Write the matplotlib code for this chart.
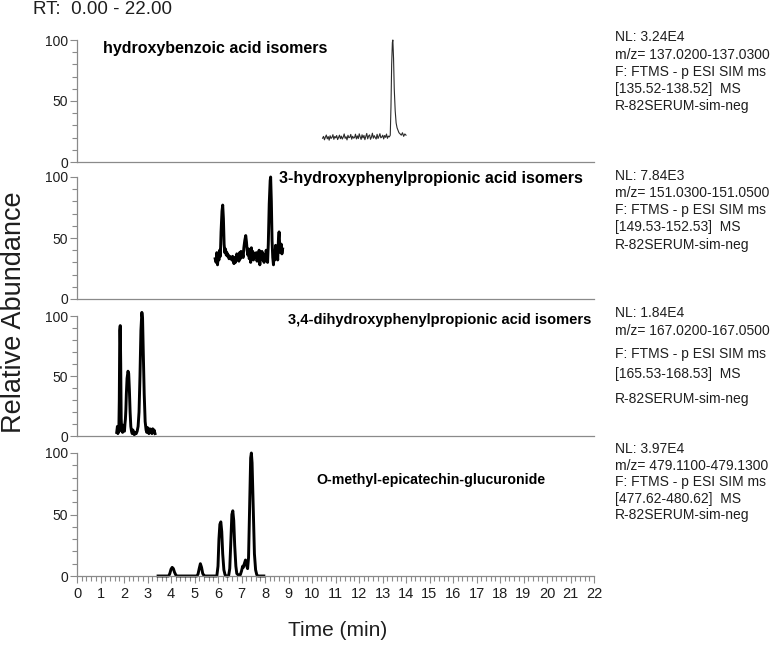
import numpy as np
import matplotlib
matplotlib.use('Agg')
import matplotlib.pyplot as plt
from matplotlib.ticker import MultipleLocator
from matplotlib import font_manager as fm

plt.rcParams['font.family'] = ['Liberation Sans', 'DejaVu Sans']

# ---------------- data ----------------
# panel 1: hydroxybenzoic acid isomers (baseline scans every 0.04 min from 10.45)
p1_base_start = 10.45
p1_base_step = 0.04
p1_base_vals = [19.5, 21.0, 18.2, 20.4, 22.1, 19.0, 20.8, 17.9, 21.5, 19.3,
                20.2, 22.4, 18.6, 20.9, 19.8, 21.7, 18.4, 20.1, 22.0, 19.1,
                21.2, 18.8, 20.5, 23.0, 19.4, 20.7, 18.1, 21.9, 19.9, 20.3,
                22.6, 18.7, 21.1, 19.6, 20.0, 22.8, 18.9, 21.4, 19.2, 23.1,
                20.6, 18.5, 22.3, 19.7, 21.8, 18.3, 20.9, 23.4, 19.0, 21.3,
                22.2, 18.6, 20.4, 23.6, 19.5, 21.6, 20.1, 18.8, 22.7, 19.3,
                21.0, 23.2, 19.8, 20.5, 22.0, 18.9, 21.7, 20.2, 22.9, 19.4,
                21.2, 20.6]
p1_peak_t = [13.33, 13.36, 13.39, 13.42, 13.44, 13.47, 13.50, 13.54, 13.58,
             13.62, 13.66, 13.70, 13.75, 13.80, 13.85, 13.90, 13.95, 14.00]
p1_peak_v = [22, 45, 80, 98, 100, 85, 60, 42, 32, 28, 26, 24, 23, 22, 24, 21, 23, 22]

# panel 2: 3-hydroxyphenylpropionic acid isomers
p2_t = [5.88, 5.92, 5.95, 5.98, 6.01, 6.04, 6.07, 6.10,
        6.13, 6.17, 6.20, 6.23, 6.26, 6.29,
        6.32, 6.35, 6.38, 6.41, 6.44, 6.47, 6.50, 6.53, 6.56, 6.59, 6.62, 6.65,
        6.68, 6.71, 6.74, 6.77, 6.80, 6.83, 6.86, 6.89, 6.92, 6.95, 6.98, 7.01,
        7.04, 7.07, 7.10,
        7.14, 7.18, 7.21, 7.24, 7.27,
        7.30, 7.33, 7.36, 7.39, 7.42, 7.45, 7.48, 7.51, 7.54, 7.57, 7.60, 7.63,
        7.66, 7.69, 7.72, 7.75, 7.78, 7.81, 7.84, 7.87, 7.90, 7.93, 7.96, 7.99,
        8.02, 8.05, 8.08, 8.11, 8.14,
        8.18, 8.22, 8.24, 8.27,
        8.30, 8.33, 8.36, 8.39, 8.42, 8.45, 8.48, 8.51, 8.54, 8.57, 8.60, 8.63,
        8.66, 8.69, 8.72, 8.75]
p2_v = [33, 30, 38, 28, 36, 32, 40, 35,
        55, 72, 77, 66, 45, 38,
        41, 36, 38, 35, 36, 33, 35, 33, 34, 32, 35, 31, 29, 34, 30, 33, 37, 32,
        36, 31, 38, 33, 39, 35, 37, 34, 42,
        48, 52, 47, 40, 36,
        41, 33, 38, 30, 42, 34, 39, 32, 37, 36, 34, 38, 31, 36, 33, 40, 28, 37,
        34, 39, 32, 37, 30, 36, 33, 40, 35, 30, 45,
        78, 97, 100, 80,
        48, 34, 28, 38, 32, 44, 36, 40, 32, 48, 55, 42, 38, 45, 37, 41]

# panel 3: 3,4-dihydroxyphenylpropionic acid isomers
p3_t = [1.69, 1.72, 1.74, 1.76, 1.78, 1.80, 1.82, 1.84, 1.86, 1.88,
        1.90, 1.92, 1.94, 1.96, 1.98, 2.00, 2.02, 2.04, 2.06, 2.08,
        2.10, 2.13, 2.17, 2.20, 2.23, 2.26, 2.29, 2.32, 2.35, 2.38,
        2.41, 2.44, 2.48, 2.52, 2.56, 2.60, 2.64, 2.68, 2.72, 2.76,
        2.79, 2.82, 2.86, 2.90, 2.94, 2.97, 3.00, 3.03, 3.06, 3.10,
        3.13, 3.16, 3.19, 3.22, 3.25, 3.28, 3.32]
p3_v = [3, 8, 2, 6, 4, 30, 88, 92, 60, 15,
        4, 8, 3, 9, 5, 7, 4, 10, 14, 22,
        35, 48, 54, 52, 38, 20, 8, 4, 2, 5,
        2, 1, 3, 2, 4, 8, 20, 50, 88, 103,
        98, 70, 35, 12, 5, 3, 7, 4, 2, 6,
        3, 5, 2, 6, 3, 5, 2]

# panel 4: O-methyl-epicatechin-glucuronide
p4_t = [3.45, 3.90, 3.95, 4.00, 4.05, 4.10, 4.15, 4.20, 4.25,
        5.10, 5.15, 5.20, 5.25, 5.30, 5.35, 5.40, 5.45,
        5.95, 6.00, 6.04, 6.08, 6.12, 6.16, 6.20, 6.25, 6.30, 6.35,
        6.45, 6.50, 6.55, 6.59, 6.63, 6.67, 6.71, 6.76, 6.80, 6.85,
        6.95, 7.00, 7.05, 7.08, 7.12, 7.17, 7.21, 7.26,
        7.30, 7.35, 7.39, 7.42, 7.45, 7.50, 7.55, 7.60, 7.65, 7.70, 7.95]
p4_v = [0, 0, 2, 5.5, 7, 6, 3, 1, 0,
        0, 1.5, 6, 10, 7, 2, 0.5, 0,
        0, 8, 30, 42, 44, 36, 18, 5, 1, 0,
        0, 6, 30, 50, 53, 45, 25, 8, 2, 1,
        1, 4, 8, 7, 10, 13, 9, 6,
        15, 60, 96, 100, 92, 55, 18, 5, 1, 0, 0]

titles = ["hydroxybenzoic acid isomers",
          "3-hydroxyphenylpropionic acid isomers",
          "3,4-dihydroxyphenylpropionic acid isomers",
          "O-methyl-epicatechin-glucuronide"]
info = [["NL: 3.24E4", "m/z= 137.0200-137.0300", "F: FTMS - p ESI SIM ms",
         "[135.52-138.52]  MS", "R-82SERUM-sim-neg"],
        ["NL: 7.84E3", "m/z= 151.0300-151.0500", "F: FTMS - p ESI SIM ms",
         "[149.53-152.53]  MS", "R-82SERUM-sim-neg"],
        ["NL: 1.84E4", "m/z= 167.0200-167.0500", "F: FTMS - p ESI SIM ms",
         "[165.53-168.53]  MS", "R-82SERUM-sim-neg"],
        ["NL: 3.97E4", "m/z= 479.1100-479.1300", "F: FTMS - p ESI SIM ms",
         "[477.62-480.62]  MS", "R-82SERUM-sim-neg"]]
x_ticks = list(range(0, 23))
y_ticks = [0, 50, 100]

# ---------------- layout ----------------
W, H = 771, 645
fig = plt.figure(figsize=(W / 100, H / 100), dpi=100)
fig.patch.set_facecolor('white')

AX_L, AX_R = 77, 594
panels_px = [(40, 162), (177, 299), (316, 436), (453, 576)]
# (x, y, size, anchor)
title_spec = [(103, 48, 11.5, 'left'), (279, 178, 11.5, 'left'),
              (591, 320, 10.5, 'right'), (316, 480, 10.2, 'left')]
info_px = [[37, 55, 72, 89, 106],
           [176, 193, 210, 227, 245],
           [313, 331, 354, 374, 399],
           [449, 466, 482, 499, 515]]

SPINE = '#8a8a8a'
TXT = '#1e1e1e'

names = {f.name for f in fm.fontManager.ttflist}
narrow = [n for n in ['Liberation Sans Narrow', 'Arial Narrow'] if n in names]
tick_family = narrow + ['Liberation Sans', 'DejaVu Sans']

p1_base_t = p1_base_start + p1_base_step * np.arange(len(p1_base_vals))
traces = [
    (np.concatenate([p1_base_t, p1_peak_t]), np.concatenate([p1_base_vals, p1_peak_v]), 0.8, '#2a2a2a'),
    (np.array(p2_t), np.array(p2_v), 2.1, 'black'),
    (np.array(p3_t), np.array(p3_v), 2.1, 'black'),
    (np.array(p4_t), np.array(p4_v), 2.1, 'black'),
]

def fx(px):
    return px / W

def fy(py):
    return 1 - py / H

for i, (top, bot) in enumerate(panels_px):
    ax = fig.add_axes([fx(AX_L), fy(bot), (AX_R - AX_L) / W, (bot - top) / H])
    ax.set_xlim(0, 22)
    ax.set_ylim(0, 100)
    t, v, lw, col = traces[i]
    ax.plot(t, v, color=col, lw=lw, clip_on=False, solid_joinstyle='round')
    for s in ['top', 'right']:
        ax.spines[s].set_visible(False)
    for s in ['left', 'bottom']:
        ax.spines[s].set_color(SPINE)
        ax.spines[s].set_linewidth(0.9)
    ax.set_yticks(y_ticks)
    ax.yaxis.set_minor_locator(MultipleLocator(10))
    ax.tick_params(axis='y', which='major', direction='out', length=5, width=0.8,
                   color=SPINE, labelsize=10, labelcolor=TXT, pad=1.5)
    ax.tick_params(axis='y', which='minor', direction='out', length=3.3, width=0.8,
                   color=SPINE)
    if i < 3:
        ax.set_xticks([])
        ax.tick_params(axis='x', which='both', length=0)
    else:
        ax.set_xticks(x_ticks)
        ax.xaxis.set_minor_locator(MultipleLocator(0.2))
        ax.tick_params(axis='x', which='major', direction='out', length=5, width=0.8,
                       color=SPINE, labelsize=11 if narrow else 10.5,
                       labelcolor=TXT, pad=3)
        ax.tick_params(axis='x', which='minor', direction='out', length=3.5, width=0.8,
                       color=SPINE)
        for lab in ax.get_xticklabels():
            lab.set_family(tick_family)
    ax.patch.set_alpha(0)

    tx, ty, tsz, tha = title_spec[i]
    fig.text(fx(tx), fy(ty), titles[i], fontsize=tsz, fontweight='bold',
             color='black', ha=tha, va='center')
    for line, yy in zip(info[i], info_px[i]):
        fig.text(fx(615), fy(yy), line, fontsize=10, color=TXT,
                 ha='left', va='center')

fig.text(fx(33), fy(10), "RT:  0.00 - 22.00", fontsize=13.5, color=TXT,
         ha='left', va='center')
fig.text(fx(14), fy(312), "Relative Abundance", fontsize=19.5, color=TXT,
         ha='center', va='center', rotation=90)
fig.text(fx(338), fy(630), "Time (min)", fontsize=15, color=TXT,
         ha='center', va='center', family=tick_family)

fig.savefig('out.png', dpi=100, facecolor='white')
